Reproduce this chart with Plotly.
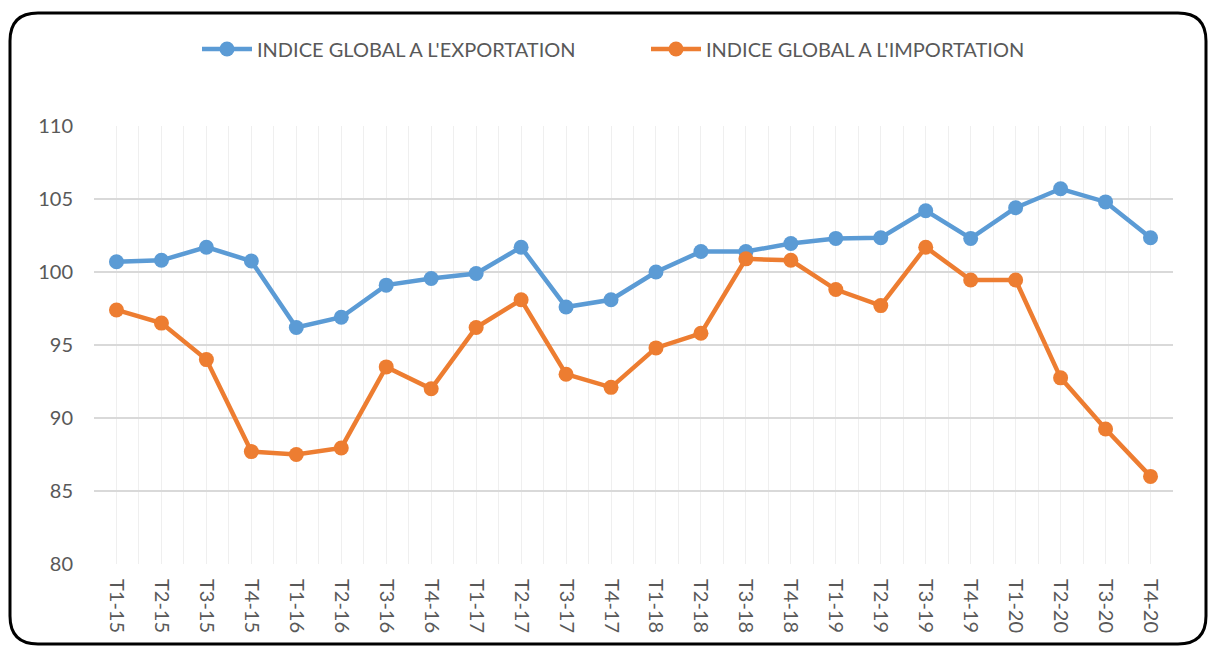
import plotly.graph_objects as go

categories = ["T1-15", "T2-15", "T3-15", "T4-15",
              "T1-16", "T2-16", "T3-16", "T4-16",
              "T1-17", "T2-17", "T3-17", "T4-17",
              "T1-18", "T2-18", "T3-18", "T4-18",
              "T1-19", "T2-19", "T3-19", "T4-19",
              "T1-20", "T2-20", "T3-20", "T4-20"]
export_values = [100.7, 100.8, 101.7, 100.75, 96.2, 96.9, 99.1, 99.55,
                 99.9, 101.7, 97.6, 98.1, 100.0, 101.4, 101.4, 101.95,
                 102.3, 102.35, 104.2, 102.3, 104.4, 105.7, 104.8, 102.35]
import_values = [97.4, 96.5, 94.0, 87.7, 87.5, 87.95, 93.5, 92.0,
                 96.2, 98.1, 93.0, 92.1, 94.8, 95.8, 100.9, 100.8,
                 98.8, 97.7, 101.7, 99.45, 99.45, 92.75, 89.25, 86.0]
export_name = "INDICE GLOBAL A L'EXPORTATION"
import_name = "INDICE GLOBAL A L'IMPORTATION"
y_ticks = [80, 85, 90, 95, 100, 105, 110]

W, H = 1208, 646
ML, MR, MT, MB = 94, 35, 126, 82
PW, PH = W - ML - MR, H - MT - MB

FONT = "Lato, sans-serif"
TXT = "#595959"
BLUE = "#5B9BD5"
ORANGE = "#ED7D31"

idx = list(range(len(categories)))

fig = go.Figure()
fig.add_trace(go.Scatter(x=idx, y=export_values, name=export_name, mode="lines+markers",
                         line=dict(color=BLUE, width=4.5), marker=dict(size=15, color=BLUE)))
fig.add_trace(go.Scatter(x=idx, y=import_values, name=import_name, mode="lines+markers",
                         line=dict(color=ORANGE, width=4.5), marker=dict(size=15, color=ORANGE)))


def px_x(p):
    return (p - ML) / PW


def px_y(p):
    return (H - MB - p) / PH


# rounded border
L, T, R, B, r = 10, 13, 1206, 644, 28
pts = [("M", L + r, T), ("L", R - r, T), ("Q", R, T, R, T + r), ("L", R, B - r),
       ("Q", R, B, R - r, B), ("L", L + r, B), ("Q", L, B, L, B - r), ("L", L, T + r),
       ("Q", L, T, L + r, T)]
path = ""
for p in pts:
    cmd = p[0]
    coords = p[1:]
    s = []
    for i in range(0, len(coords), 2):
        s.append(f"{px_x(coords[i]):.5f},{px_y(coords[i+1]):.5f}")
    path += cmd + " ".join(s) + " "
path += "Z"
fig.add_shape(type="path", path=path, xref="paper", yref="paper",
              line=dict(color="black", width=3), layer="above")

fig.update_layout(
    width=W, height=H,
    margin=dict(l=ML, r=MR, t=MT, b=MB),
    paper_bgcolor="white", plot_bgcolor="white",
    font=dict(family=FONT, color=TXT, size=20),
    showlegend=True,
    legend=dict(orientation="h", x=px_x(197), xanchor="left", y=px_y(49), yanchor="middle",
                font=dict(size=20, color=TXT, family=FONT),
                entrywidth=384, entrywidthmode="pixels", itemwidth=50),
    xaxis=dict(range=[-0.5, len(categories) - 0.5], tickvals=idx, ticktext=categories,
               tickangle=90, showgrid=True, gridcolor="#EFEFEF", gridwidth=1,
               zeroline=False, showline=False, ticks="", ticklabelstandoff=14,
               tickfont=dict(size=20, color=TXT, family=FONT),
               minor=dict(tickvals=[i - 0.5 for i in range(len(categories) + 1)],
                          showgrid=True, gridcolor="#EFEFEF", gridwidth=1)),
    yaxis=dict(range=[80, 110], tickvals=y_ticks, showgrid=True, gridcolor="#D9D9D9",
               gridwidth=1.5, zeroline=False, showline=False, ticks="", ticklabelstandoff=20,
               tickfont=dict(size=20, color=TXT, family=FONT)),
)

fig.write_html("out.html", config={"displayModeBar": False},
               post_script="document.body.style.margin='0';document.body.style.overflow='hidden';")
